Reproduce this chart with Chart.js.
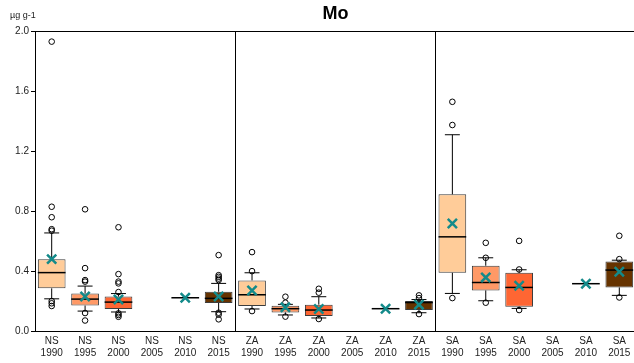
<!DOCTYPE html>
<html>
<head>
<meta charset="utf-8">
<title>Mo</title>
<script src="https://cdn.jsdelivr.net/npm/chart.js@4/dist/chart.umd.min.js"></script>
<style>
  html, body { margin: 0; padding: 0; background: #fff; overflow: hidden; }
  #wrap { width: 634px; height: 363px; overflow: hidden; }
</style>
</head>
<body>
<div id="wrap"><canvas id="chart" width="670" height="363"></canvas></div>
<script>
// Region / year categories
const categories = [
  ["NS", "1990"], ["NS", "1995"], ["NS", "2000"], ["NS", "2005"], ["NS", "2010"], ["NS", "2015"],
  ["ZA", "1990"], ["ZA", "1995"], ["ZA", "2000"], ["ZA", "2005"], ["ZA", "2010"], ["ZA", "2015"],
  ["SA", "1990"], ["SA", "1995"], ["SA", "2000"], ["SA", "2005"], ["SA", "2010"], ["SA", "2015"]
];

// Box-plot statistics, µg g-1 (null = no samples)
const lowWhisker  = [0.215, 0.133, 0.127, null, 0.222, 0.129,  0.147, 0.107, 0.087, null, 0.149, 0.122,  0.251, 0.202, 0.151, null, 0.316, 0.238];
const q1          = [0.285, 0.170, 0.147, null, 0.222, 0.187,  0.167, 0.124, 0.100, null, 0.149, 0.140,  0.389, 0.271, 0.162, null, 0.316, 0.291];
const median      = [0.390, 0.213, 0.193, null, 0.222, 0.218,  0.242, 0.149, 0.140, null, 0.149, 0.190,  0.629, 0.324, 0.291, null, 0.316, 0.407];
const q3          = [0.480, 0.250, 0.230, null, 0.222, 0.262,  0.338, 0.169, 0.176, null, 0.149, 0.200,  0.913, 0.436, 0.389, null, 0.316, 0.464];
const highWhisker = [0.655, 0.300, 0.250, null, 0.222, 0.318,  0.389, 0.178, 0.229, null, 0.149, 0.210,  1.311, 0.489, 0.409, null, 0.316, 0.473];
const means       = [0.480, 0.230, 0.210, null, 0.222, 0.230,  0.271, 0.158, 0.147, null, 0.149, 0.176,  0.718, 0.358, 0.302, null, 0.316, 0.396];
const outliers = [
  [1.933, 0.830, 0.760, 0.680, 0.670, 0.200, 0.185, 0.167],
  [0.813, 0.420, 0.340, 0.330, 0.120, 0.070],
  [0.693, 0.380, 0.330, 0.318, 0.260, 0.118, 0.107, 0.095],
  [],
  [],
  [0.507, 0.373, 0.362, 0.350, 0.340, 0.122, 0.109, 0.078],
  [0.527, 0.400, 0.133],
  [0.229, 0.189, 0.096],
  [0.282, 0.256, 0.080],
  [],
  [],
  [0.238, 0.220, 0.113],
  [1.531, 1.376, 0.220],
  [0.589, 0.489, 0.189],
  [0.602, 0.411, 0.140],
  [],
  [],
  [0.636, 0.480, 0.224]
];
const yTicks = [0.0, 0.4, 0.8, 1.2, 1.6, 2.0];

// Fill colour by survey year
const yearColors = { "1990": "#FFCC99", "1995": "#FF9966", "2000": "#FF6633", "2005": "#CC5500", "2010": "#993300", "2015": "#663300" };

const narrow = '"Liberation Sans Narrow", "Arial Narrow", "Liberation Sans", Arial, sans-serif';
const regular = '"Liberation Sans", Arial, sans-serif';

// Category i sits at x = i on a linear axis shared by all datasets
const boxData = [];
const boxColors = [];
q1.forEach((lo, i) => {
  if (lo == null) return;
  boxData.push({ x: i, y: [lo, q3[i]], i });
  boxColors.push(yearColors[categories[i][1]]);
});
const outlierPoints = [];
outliers.forEach((list, i) => list.forEach(v => outlierPoints.push({ x: i, y: v })));
const meanPoints = means.map((v, i) => (v == null ? null : { x: i, y: v })).filter(p => p);

// Whiskers, caps and median lines, drawn right after the boxes
const boxExtras = {
  id: 'boxExtras',
  afterDatasetDraw(chart, args) {
    if (args.index !== 0) return;
    const ys = chart.scales.y;
    const ctx = chart.ctx;
    ctx.save();
    args.meta.data.forEach((bar, k) => {
      const i = boxData[k].i;
      const x = bar.x, w = bar.width;
      const pLo = ys.getPixelForValue(lowWhisker[i]);
      const pQ1 = ys.getPixelForValue(q1[i]);
      const pMed = ys.getPixelForValue(median[i]);
      const pQ3 = ys.getPixelForValue(q3[i]);
      const pHi = ys.getPixelForValue(highWhisker[i]);
      const cap = w * 0.27;
      ctx.strokeStyle = '#000';
      ctx.lineWidth = 1;
      ctx.beginPath();
      if (pHi < pQ3 - 0.5) {
        ctx.moveTo(x, pQ3); ctx.lineTo(x, pHi);
        ctx.moveTo(x - cap, pHi); ctx.lineTo(x + cap, pHi);
      }
      if (pLo > pQ1 + 0.5) {
        ctx.moveTo(x, pQ1); ctx.lineTo(x, pLo);
        ctx.moveTo(x - cap, pLo); ctx.lineTo(x + cap, pLo);
      }
      ctx.stroke();
      ctx.lineWidth = 1.5;
      ctx.beginPath();
      ctx.moveTo(x - w / 2, pMed); ctx.lineTo(x + w / 2, pMed);
      ctx.stroke();
    });
    ctx.restore();
  },
  afterDraw(chart) {
    const ctx = chart.ctx;
    ctx.save();
    ctx.fillStyle = '#222';
    ctx.font = '9px ' + narrow;
    ctx.textBaseline = 'alphabetic';
    ctx.textAlign = 'left';
    ctx.fillText('µg g-1', 10, 18);
    ctx.restore();
  }
};

const transparent = 'rgba(0,0,0,0)';

new Chart(document.getElementById('chart'), {
  type: 'bar',
  data: {
    datasets: [
      {
        type: 'bar',
        data: boxData,
        backgroundColor: boxColors,
        borderColor: '#3c3c3c',
        borderWidth: 1,
        borderSkipped: false,
        grouping: false,
        categoryPercentage: 1,
        barPercentage: 0.83,
        order: 3
      },
      {
        type: 'scatter',
        data: outlierPoints,
        pointStyle: 'circle',
        pointRadius: 2.8,
        pointBorderWidth: 1,
        pointBorderColor: '#000',
        pointBackgroundColor: transparent,
        order: 2
      },
      {
        type: 'scatter',
        data: meanPoints,
        pointStyle: 'crossRot',
        pointRadius: 6.5,
        pointBorderWidth: 2.5,
        pointBorderColor: '#138a8a',
        order: 1
      }
    ]
  },
  options: {
    responsive: false,
    animation: false,
    events: [],
    layout: { padding: { left: 0, right: 34, top: 0, bottom: 0 } },
    plugins: {
      legend: { display: false },
      tooltip: { enabled: false },
      title: {
        display: true,
        fullSize: false,
        text: 'Mo',
        color: '#000',
        font: { family: regular, size: 18, weight: 'bold' },
        padding: { top: 3, bottom: 7 }
      }
    },
    scales: {
      x: {
        type: 'linear',
        min: -0.5,
        max: 17.5,
        offset: false,
        afterBuildTicks(scale) { scale.ticks = categories.map((c, i) => ({ value: i })); },
        grid: {
          offset: true,
          drawTicks: false,
          color: c => (c.index === 6 || c.index === 12) ? '#000' : transparent,
          lineWidth: 1
        },
        border: { display: true, color: '#000', width: 1 },
        ticks: {
          color: '#222',
          font: { family: narrow, size: 10, lineHeight: 1.2 },
          padding: 4,
          maxRotation: 0,
          autoSkip: false,
          callback: v => categories[v]
        },
        afterFit(scale) { scale.height = 32; }
      },
      y: {
        type: 'linear',
        min: 0,
        max: 2,
        afterBuildTicks(scale) { scale.ticks = yTicks.map(v => ({ value: v })); },
        grid: {
          color: c => (c.tick && Math.abs(c.tick.value - 2) < 1e-9) ? '#000' : transparent,
          tickColor: '#000',
          tickLength: 4,
          lineWidth: 1
        },
        border: { display: true, color: '#000', width: 1 },
        ticks: {
          color: '#222',
          font: { family: narrow, size: 10 },
          padding: 2,
          callback: v => Number(v).toFixed(1)
        },
        afterFit(scale) { scale.width = 35; }
      }
    }
  },
  plugins: [boxExtras]
});
</script>
</body>
</html>
